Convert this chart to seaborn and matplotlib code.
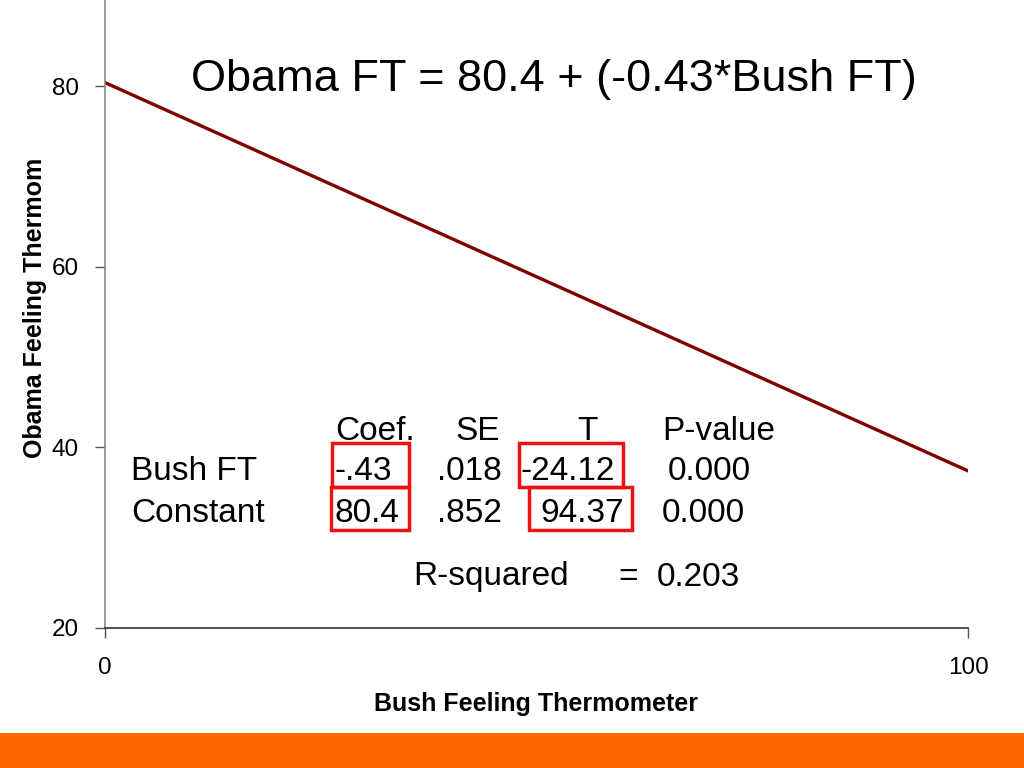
import matplotlib
matplotlib.use("Agg")
import matplotlib.pyplot as plt
import seaborn as sns
import pandas as pd
from matplotlib.patches import Rectangle

# fitted line endpoints
bush_ft = [0, 100]
obama_fit = [80.4, 37.4]

x_ticks = [0, 100]
y_ticks = [20, 40, 60, 80]

title = "Obama FT = 80.4 + (-0.43*Bush FT)"
header = ["Coef.", "SE", "T", "P-value"]
row_names = ["Bush FT", "Constant"]
coef = ["-.43", "80.4"]
se = [".018", ".852"]
t_vals = ["-24.12", "94.37"]
p_vals = ["0.000", "0.000"]
r_squared = "0.203"

sns.set_style("white")
plt.rcParams['font.family'] = ['Liberation Sans', 'DejaVu Sans']
plt.rcParams['text.color'] = 'black'
plt.rcParams['xtick.color'] = 'black'
plt.rcParams['ytick.color'] = 'black'

fig = plt.figure(figsize=(10.24, 7.68), dpi=100)
ax = fig.add_axes([105 / 1024, 1 - 628 / 768, 863 / 1024, 628 / 768])

df = pd.DataFrame({"bush": bush_ft, "obama": obama_fit})
sns.lineplot(data=df, x="bush", y="obama", ax=ax, color="#800000", linewidth=2.4)

ax.set_xlim(0, 100)
ax.set_ylim(20, 20 + 628 / 9.03)
ax.set_xticks(x_ticks)
ax.set_yticks(y_ticks)
ax.tick_params(axis="both", labelsize=17.5, length=7, width=1, color="#555555",
               direction="out", bottom=True, left=True, labelcolor="black")
ax.tick_params(axis="x", pad=14)
ax.tick_params(axis="y", pad=12)
for side in ["top", "right"]:
    ax.spines[side].set_visible(False)
ax.spines["left"].set_color("#888888")
ax.spines["bottom"].set_color("#333333")
ax.spines["left"].set_linewidth(1.2)
ax.spines["bottom"].set_linewidth(1.2)

ax.set_xlabel("")
ax.set_ylabel("")
fig.text(536 / 1024, 1 - 704 / 768, "Bush Feeling Thermometer", ha="center", va="center",
         fontsize=18, fontweight="bold")
fig.text(35 / 1024, 1 - 308 / 768, "Obama Feeling Thermom", ha="center", va="center",
         rotation=90, fontsize=18, fontweight="bold")

# title equation
fig.text(554 / 1024, 1 - 79 / 768, title, ha="center", va="center", fontsize=32.5)


def px(x, y):
    return x / 1024, 1 - y / 768


fs = 24
# header
for label, xp in zip(header, [335, 455, 587, 662]):
    ha = "center" if label == "T" else "left"
    fig.text(*px(xp, 431), label, ha=ha, va="center", fontsize=fs)
# rows
row_y = [472, 513]
for i, yp in enumerate(row_y):
    fig.text(*px(131, yp), row_names[i], ha="left", va="center", fontsize=fs)
    fig.text(*px(335, yp), coef[i], ha="left", va="center", fontsize=fs)
    fig.text(*px(437, yp), se[i], ha="left", va="center", fontsize=fs)
    fig.text(*px([521, 540][i], yp), t_vals[i], ha="left", va="center", fontsize=fs)
    fig.text(*px([668, 662][i], yp), p_vals[i], ha="left", va="center", fontsize=fs)

fig.text(*px(413, 577), "R-squared", ha="left", va="center", fontsize=fs)
fig.text(*px(618, 577), "=", ha="left", va="center", fontsize=fs)
fig.text(*px(657, 577), r_squared, ha="left", va="center", fontsize=fs)

# red highlight boxes
boxes = [(332, 443, 409, 487), (331, 487, 409, 530), (519, 443, 623, 487), (529, 487, 632, 530)]
for x0, y0, x1, y1 in boxes:
    fig.patches.append(Rectangle((x0 / 1024, 1 - y1 / 768), (x1 - x0) / 1024, (y1 - y0) / 768,
                                 transform=fig.transFigure, fill=False, edgecolor="#ee1111",
                                 linewidth=2.5))

# orange footer band
fig.patches.append(Rectangle((0, 0), 1, 35 / 768, transform=fig.transFigure,
                             facecolor="#ff6600", edgecolor="none"))

fig.savefig("out.png", dpi=100)
